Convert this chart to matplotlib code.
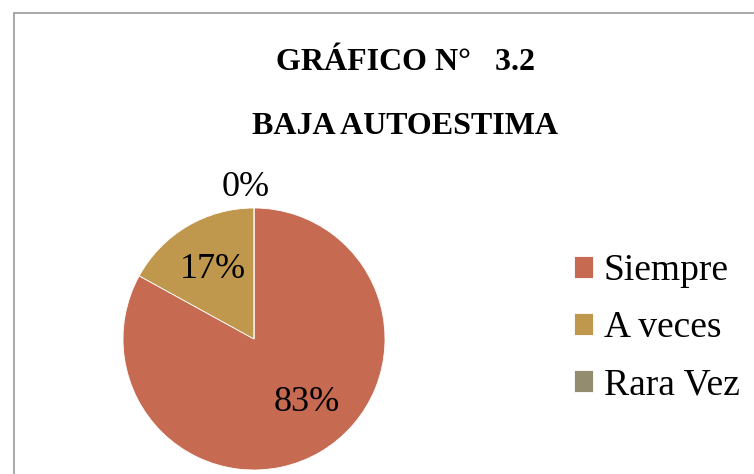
import numpy as np
import matplotlib
matplotlib.use("Agg")
import matplotlib.pyplot as plt
from matplotlib.patches import Rectangle

plt.rcParams["font.family"] = ["Liberation Serif", "DejaVu Serif"]

labels = ["Siempre", "A veces", "Rara Vez"]
values = [83, 17, 0]
colors = ["#C66A52", "#C0984D", "#948C6E"]
title_1 = "GRÁFICO N°   3.2"
title_2 = "BAJA AUTOESTIMA"

W, H = 754, 474
fig = plt.figure(figsize=(W / 100, H / 100), dpi=100)

# outer chart border (only left and top edges visible)
fig.patches.append(Rectangle((14 / W, -0.2), 1.2, 1 - 13 / H + 0.2, transform=fig.transFigure,
                             fill=False, edgecolor="#9a9a9a", linewidth=1.2))

fig.text(405 / W, 1 - 63 / H, title_1, ha="center", va="center", fontsize=23, fontweight="bold")
fig.text(405 / W, 1 - 127 / H, title_2, ha="center", va="center", fontsize=23, fontweight="bold")

ax = fig.add_axes([123 / W, 1 - 470 / H, 262 / W, 262 / H])
wedges, _ = ax.pie(values, colors=colors, startangle=90, counterclock=False,
                   wedgeprops=dict(linewidth=0.6, edgecolor="white"))
ax.set_xlim(-1, 1)
ax.set_ylim(-1, 1)

# data labels
total = sum(values)
start = 90.0
for v in values:
    span = 360.0 * v / total
    mid = start - span / 2
    if v == 0:
        r, ang = 1.16, mid + 3
    elif v < 50:
        r, ang = 0.62, mid
    else:
        r, ang = 0.63, mid + 9
    ax.text(r * np.cos(np.radians(ang)), r * np.sin(np.radians(ang)), f"{v}%",
            ha="center", va="center", fontsize=26)
    start -= span

leg = fig.legend(wedges, labels, loc="center left", bbox_to_anchor=(574 / W, 1 - 328 / H),
                 frameon=False, fontsize=27, handlelength=0.5, handleheight=0.5,
                 handletextpad=0.3, labelspacing=0.6, borderpad=0, borderaxespad=0)

fig.savefig("out.png", dpi=100)
